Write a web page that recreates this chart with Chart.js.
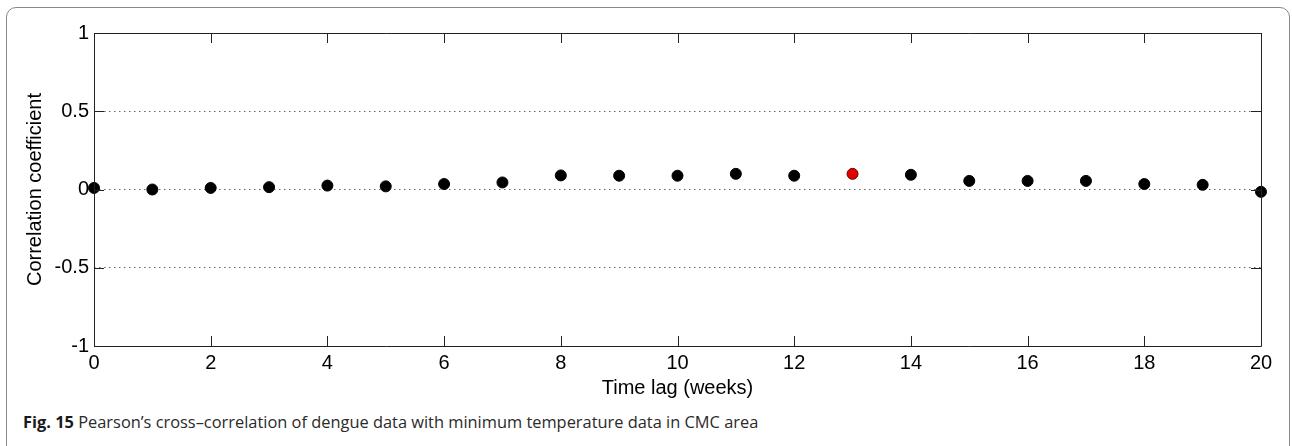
<!DOCTYPE html>
<html>
<head>
<meta charset="utf-8">
<script src="https://cdn.jsdelivr.net/npm/chart.js@4/dist/chart.umd.min.js"></script>
<style>
  body { margin: 0; background: #fff; }
  #wrap { position: relative; width: 1292px; height: 446px; overflow: hidden; }
  #frame { position: absolute; left: 6px; top: 7px; width: 1282px; height: 470px;
           border: 1px solid #8a8a8a; border-radius: 10px; }
  #box { position: absolute; left: 0; top: 0; width: 1292px; height: 400px; }
  #caption { position: absolute; left: 23px; top: 410px; font-family: "Open Sans", sans-serif;
             font-size: 16.4px; color: #2a2a2a; white-space: nowrap; }
  #caption b { color: #1a1a1a; }
</style>
</head>
<body>
<div id="wrap">
  <div id="frame"></div>
  <div id="box"><canvas id="chart-lag"></canvas></div>
  <div id="caption"><b>Fig. 15</b> Pearson’s cross–correlation of dengue data with minimum temperature data in CMC area</div>
</div>
<script>
// lag in weeks and correlation
var lags = [0, 1, 2, 3, 4, 5, 6, 7, 8, 9, 10, 11, 12, 13, 14, 15, 16, 17, 18, 19, 20];
var corr = [0.01, 0.0, 0.01, 0.015, 0.025, 0.02, 0.035, 0.045, 0.09, 0.088, 0.088, 0.1, 0.088, 0.1, 0.094, 0.055, 0.055, 0.055, 0.035, 0.03, -0.015];
var peakLag = 13;
var xTicks = [0, 2, 4, 6, 8, 10, 12, 14, 16, 18, 20];
var yTicks = [-1, -0.5, 0, 0.5, 1];

var points = lags.map(function (l, i) { return { x: l, y: corr[i] }; });

// matlab style box with inward ticks
var boxFrame = {
  id: "boxFrame",
  afterDraw: function (chart) {
    var c = chart.ctx, a = chart.chartArea;
    var xs = chart.scales.x, ys = chart.scales.y;
    var len = 10;
    c.save();
    c.strokeStyle = "#222";
    c.lineWidth = 1;
    c.beginPath();
    c.rect(Math.round(a.left) + 0.5, Math.round(a.top) + 0.5, Math.round(a.right - a.left), Math.round(a.bottom - a.top));
    xTicks.forEach(function (t) {
      var px = Math.round(xs.getPixelForValue(t)) + 0.5;
      c.moveTo(px, a.bottom); c.lineTo(px, a.bottom - len);
      c.moveTo(px, a.top); c.lineTo(px, a.top + len);
    });
    yTicks.forEach(function (t) {
      var py = Math.round(ys.getPixelForValue(t)) + 0.5;
      c.moveTo(a.left, py); c.lineTo(a.left + len, py);
      c.moveTo(a.right, py); c.lineTo(a.right - len, py);
    });
    c.stroke();
    c.restore();
  }
};

var ctx = document.getElementById("chart-lag").getContext("2d");

new Chart(ctx, {
  type: "scatter",
  data: {
    datasets: [
      {
        data: points,
        clip: false,
        pointRadius: 5.5,
        pointHoverRadius: 5.5,
        pointBorderWidth: 1,
        backgroundColor: function (c) { return lags[c.dataIndex] === peakLag ? "#e00000" : "#000"; },
        borderColor: function (c) { return lags[c.dataIndex] === peakLag ? "#600" : "#000"; },
      },
    ],
  },
  options: {
    responsive: true,
    maintainAspectRatio: false,
    animation: false,
    layout: { padding: { left: 0, top: 33, right: 31, bottom: 0 } },
    plugins: {
      legend: { display: false },
      tooltip: { enabled: false },
    },
    scales: {
      x: {
        type: "linear",
        min: 0,
        max: 20,
        afterFit: function (s) { s.height = 54; },
        afterBuildTicks: function (s) { s.ticks = xTicks.map(function (v) { return { value: v }; }); },
        border: { display: false },
        grid: { display: false, drawTicks: false },
        ticks: {
          padding: 5,
          color: "#000",
          maxRotation: 0,
          font: { size: 20, family: "Liberation Sans" },
          callback: function (v) { return String(v); },
        },
        title: {
          display: true,
          text: "Time lag (weeks)",
          color: "#000",
          padding: { top: 0, bottom: 0 },
          font: { size: 20, family: "Liberation Sans" },
        },
      },
      y: {
        min: -1,
        max: 1,
        afterFit: function (s) { s.width = 94; },
        afterBuildTicks: function (s) { s.ticks = yTicks.map(function (v) { return { value: v }; }); },
        border: { display: false, dash: [1.5, 3.5] },
        grid: {
          drawTicks: false,
          color: function (c) { return Math.abs(c.tick.value) === 1 ? "rgba(0,0,0,0)" : "#666"; },
        },
        ticks: {
          padding: 5,
          color: "#000",
          font: { size: 20, family: "Liberation Sans" },
          callback: function (v) { return String(v); },
        },
        title: {
          display: true,
          text: "Correlation coefficient",
          color: "#000",
          padding: { top: 23, bottom: 0 },
          font: { size: 20, family: "Liberation Sans" },
        },
      },
    },
  },
  plugins: [boxFrame],
});
</script>
</body>
</html>
